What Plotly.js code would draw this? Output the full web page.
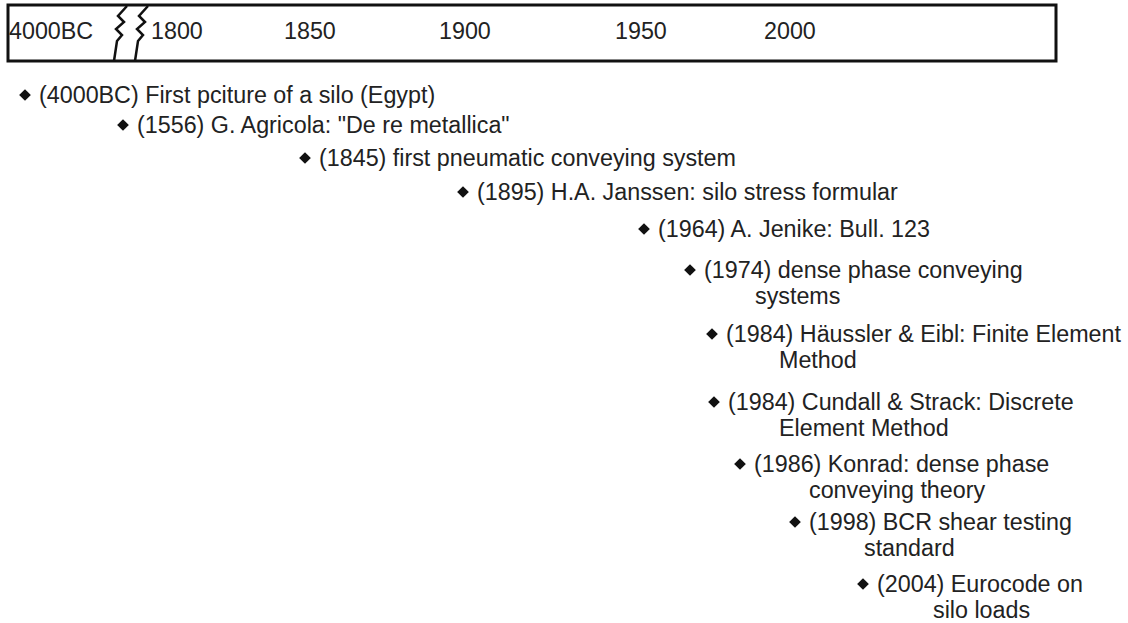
<!DOCTYPE html>
<html>
<head>
<meta charset="utf-8">
<script src="https://cdn.plot.ly/plotly-3.0.1.min.js"></script>
<style>
  html, body { margin: 0; padding: 0; background: #ffffff; }
  #chart { width: 1128px; height: 623px; }
</style>
</head>
<body>
<div id="chart"></div>
<script>
// ---- data ----
const axisLabels = ['4000BC', '1800', '1850', '1900', '1950', '2000'];
const eventYears = ['4000BC', '1556', '1845', '1895', '1964', '1974', '1984', '1984', '1986', '1998', '2004'];
const eventLine1 = [
  'First pciture of a silo (Egypt)',
  'G. Agricola: "De re metallica"',
  'first pneumatic conveying system',
  'H.A. Janssen: silo stress formular',
  'A. Jenike: Bull. 123',
  'dense phase conveying',
  'Häussler & Eibl: Finite Element',
  'Cundall & Strack: Discrete',
  'Konrad: dense phase',
  'BCR shear testing',
  'Eurocode on'
];
const eventLine2 = ['', '', '', '', '', 'systems', 'Method', 'Element Method', 'conveying theory', 'standard', 'silo loads'];

// ---- layout positions (diagram placement, pixel-like coordinates) ----
const labelX = [51, 177, 310, 465, 641, 790];
const labelY = 31;
const markX = [25, 123, 305, 463, 644, 690, 712, 714, 740, 795, 863];
const markY = [95, 125, 158, 192, 229, 270, 334, 402, 464, 522, 584];
const line2X = [0, 0, 0, 0, 0, 753, 777, 777, 807, 862, 931];
const line2DY = 26;
const textGap = 12;

const FONT = 'Liberation Sans, Arial, Helvetica, sans-serif';
const TEXT_COLOR = '#222222';
const FS = 23.3;

const annotations = [];
axisLabels.forEach((t, i) => {
  annotations.push({
    x: labelX[i], y: labelY, xref: 'x', yref: 'y', text: t, showarrow: false,
    xanchor: 'center', yanchor: 'middle',
    font: { family: FONT, size: FS, color: TEXT_COLOR }
  });
});
eventYears.forEach((yr, i) => {
  annotations.push({
    x: markX[i] + textGap, y: markY[i], xref: 'x', yref: 'y',
    text: '(' + yr + ') ' + eventLine1[i], showarrow: false,
    xanchor: 'left', yanchor: 'middle',
    font: { family: FONT, size: FS, color: TEXT_COLOR }
  });
  if (eventLine2[i]) {
    annotations.push({
      x: line2X[i], y: markY[i] + line2DY, xref: 'x', yref: 'y',
      text: eventLine2[i], showarrow: false,
      xanchor: 'left', yanchor: 'middle',
      font: { family: FONT, size: FS, color: TEXT_COLOR }
    });
  }
});

// zigzag break marks (two squiggles)
function zig(dx) {
  const p = [[127,6],[118,16],[124,22],[116,29],[122,35],[117,41],[114,61]];
  return 'M ' + p.map(q => (q[0] + dx) + ',' + q[1]).join(' L ');
}

const shapes = [
  { type: 'rect', xref: 'x', yref: 'y', x0: 8, x1: 1056, y0: 5, y1: 61,
    line: { color: '#111111', width: 3 }, fillcolor: 'rgba(0,0,0,0)' },
  { type: 'path', xref: 'x', yref: 'y', path: zig(0), line: { color: '#111111', width: 2.5 } },
  { type: 'path', xref: 'x', yref: 'y', path: zig(21), line: { color: '#111111', width: 2.5 } }
];

const trace = {
  type: 'scatter', mode: 'markers',
  x: markX, y: markY,
  marker: { symbol: 'diamond', size: 9, color: '#111111', line: { width: 0 } },
  hoverinfo: 'skip', showlegend: false
};

const layout = {
  width: 1128, height: 623,
  margin: { l: 0, r: 0, t: 0, b: 0, pad: 0 },
  paper_bgcolor: '#ffffff', plot_bgcolor: '#ffffff',
  xaxis: { range: [0, 1128], visible: false, fixedrange: true },
  yaxis: { range: [623, 0], visible: false, fixedrange: true },
  showlegend: false,
  annotations: annotations,
  shapes: shapes
};

Plotly.newPlot('chart', [trace], layout, { staticPlot: true, displayModeBar: false });
</script>
</body>
</html>
